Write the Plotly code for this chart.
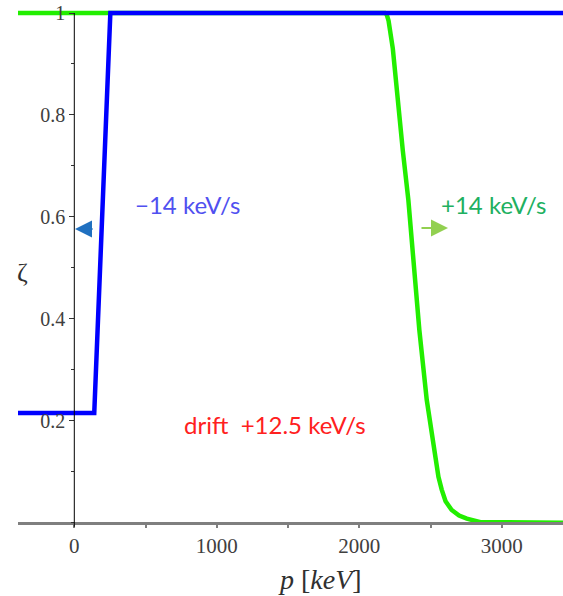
import plotly.graph_objects as go

# Data
blue_p = [-400, 140, 253, 3500]
blue_zeta = [0.215, 0.215, 1.0, 1.0]

green_p = [-400, 2180, 2192, 2205, 2235, 2267, 2305, 2344, 2379, 2421, 2473, 2531, 2555, 2578, 2605, 2648, 2700, 2754, 2800, 2850, 3500]
green_zeta = [1.0, 1.0, 0.997, 0.985, 0.93, 0.83, 0.73, 0.633, 0.51, 0.378, 0.241, 0.124, 0.09, 0.065, 0.042, 0.025, 0.014, 0.008, 0.004, 0.001, 0.0]

y_tickvals = [0.2, 0.4, 0.6, 0.8, 1.0]
y_ticktext = ["0.2", "0.4", "0.6", "0.8", "1"]
x_tickvals = [0, 1000, 2000, 3000]
x_ticktext = ["0", "1000", "2000", "3000"]

x_range = [-395, 3429]
y_range = [-0.03, 1.0255]

fig = go.Figure()
fig.add_trace(go.Scatter(x=green_p, y=green_zeta, mode="lines",
                         line=dict(color="#22ee00", width=4.5), showlegend=False))
fig.add_trace(go.Scatter(x=blue_p, y=blue_zeta, mode="lines",
                         line=dict(color="#0000ff", width=4.5), showlegend=False))

serif = "Liberation Serif"
sans = "Lato"
xpos = (0 - y_range[0]) / (y_range[1] - y_range[0])
ypos = (0 - x_range[0]) / (x_range[1] - x_range[0])

fig.update_layout(
    width=563, height=596,
    margin=dict(l=18, r=0, t=0, b=58),
    plot_bgcolor="white", paper_bgcolor="white",
    xaxis=dict(range=x_range, showgrid=False, zeroline=False,
               anchor="free", position=xpos,
               showline=True, linecolor="#7f7f7f", linewidth=3,
               tickvals=x_tickvals, ticktext=x_ticktext,
               ticks="outside", ticklen=3, tickcolor="#7f7f7f", tickwidth=2,
               minor=dict(dtick=500, ticks="outside", ticklen=3, tickcolor="#7f7f7f", tickwidth=2),
               tickfont=dict(family=serif, size=21, color="#404040")),
    yaxis=dict(range=y_range, showgrid=False, zeroline=False,
               anchor="free", position=ypos,
               showline=False,
               tickvals=y_tickvals, ticktext=y_ticktext,
               ticks="outside", ticklen=5, tickcolor="#333333", tickwidth=1,
               minor=dict(dtick=0.1, ticks="outside", ticklen=3, tickcolor="#333333", tickwidth=1),
               tickfont=dict(family=serif, size=20, color="#404040")),
    shapes=[dict(type="line", xref="x", yref="y", x0=0, x1=0, y0=-0.008, y1=1.0,
                 line=dict(color="black", width=1), layer="above")],
)

annotations = [
    dict(text="ζ", xref="paper", yref="paper", x=0.009, y=0.4926, showarrow=False,
         font=dict(family=serif, size=26, color="#303030"), xanchor="center", yanchor="middle"),
    dict(text="<i>p</i> [<i>keV</i>]", xref="paper", yref="paper", x=0.554, y=-0.078,
         showarrow=False, font=dict(family=serif, size=28, color="#303030"),
         xanchor="center", yanchor="middle"),
    dict(text="−14 keV/s", xref="x", yref="y", x=794, y=0.624, showarrow=False,
         font=dict(family=sans, size=24, color="#5050f0"), xanchor="center", yanchor="middle"),
    dict(text="+14 keV/s", xref="x", yref="y", x=2938, y=0.624, showarrow=False,
         font=dict(family=sans, size=24, color="#20b060"), xanchor="center", yanchor="middle"),
    dict(text="drift&nbsp; +12.5 keV/s", xref="x", yref="y", x=1408, y=0.192, showarrow=False,
         font=dict(family=sans, size=24, color="#ff2020"), xanchor="center", yanchor="middle"),
    dict(text="", xref="x", yref="y", x=5, y=0.576, ax=19, ay=0, axref="pixel", ayref="pixel",
         showarrow=True, arrowhead=2, arrowsize=1.7, arrowwidth=2, arrowcolor="#2070c0"),
    dict(text="", xref="x", yref="y", x=2622, y=0.578, ax=-28, ay=0, axref="pixel", ayref="pixel",
         showarrow=True, arrowhead=2, arrowsize=1.7, arrowwidth=2, arrowcolor="#92d050"),
]
fig.update_layout(annotations=annotations)

fig.write_html("out.html")
